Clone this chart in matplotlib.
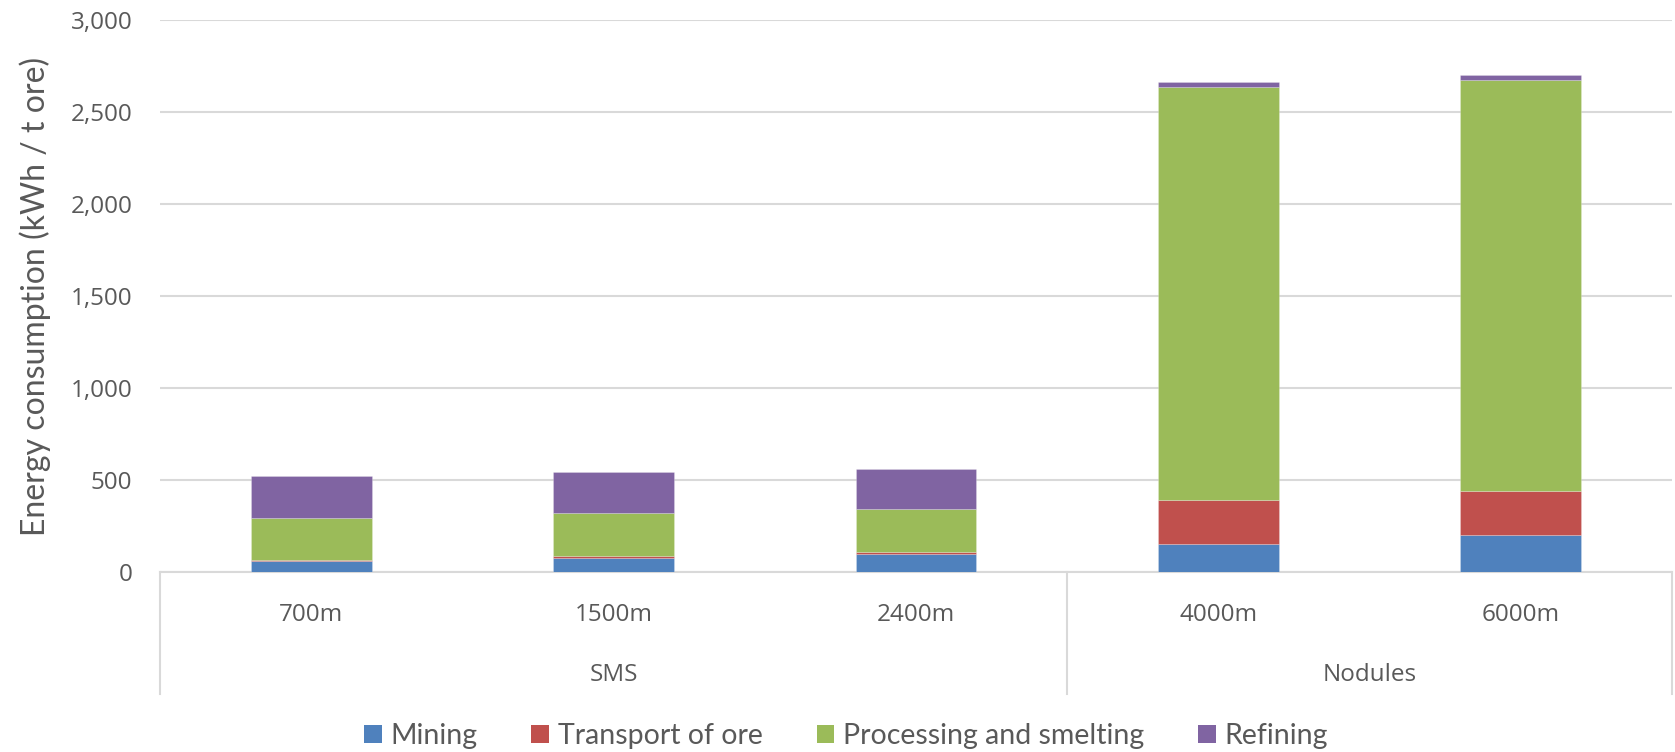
import matplotlib
matplotlib.use("Agg")
import matplotlib.pyplot as plt
import matplotlib.transforms as mtransforms
from matplotlib.lines import Line2D
from matplotlib.patches import Patch
import numpy as np

depths = ["700m", "1500m", "2400m", "4000m", "6000m"]
groups = ["SMS", "Nodules"]
group_sizes = [3, 2]
series_names = ["Mining", "Transport of ore", "Processing and smelting", "Refining"]
mining = [58, 78, 100, 150, 200]
transport = [6, 7, 6, 239, 238]
processing = [232, 234, 235, 2247, 2237]
refining = [225, 222, 217, 26, 25]
colors = ["#4F81BD", "#C0504D", "#9BBB59", "#8064A2"]
yticks = [0, 500, 1000, 1500, 2000, 2500, 3000]

W, H = 1675, 752
fig = plt.figure(figsize=(W / 100, H / 100), dpi=100)
L, R, T, B = 160, 1672, 20, 572
ax = fig.add_axes([L / W, 1 - B / H, (R - L) / W, (B - T) / H])

tick_col = "#595959"
grid_col = "#D9D9D9"
font = "Open Sans"

x = np.arange(len(depths))
bottom = np.zeros(len(depths))
for vals, c in zip([mining, transport, processing, refining], colors):
    ax.bar(x, vals, width=0.4, bottom=bottom, color=c, edgecolor=(1, 1, 1, 0.3),
           linewidth=0.5, zorder=3)
    bottom += np.array(vals)

ax.set_xlim(-0.5, len(depths) - 0.5)
ax.set_ylim(0, 3000)
ax.set_yticks(yticks)
ax.set_yticklabels([f"{v:,}" for v in yticks], fontsize=17.5, color=tick_col, fontfamily=font)
ax.tick_params(axis="y", length=0, pad=20)
ax.yaxis.grid(True, color=grid_col, linewidth=1.5, zorder=0)
ax.set_axisbelow(True)
for s in ["left", "right", "top"]:
    ax.spines[s].set_visible(False)
ax.spines["bottom"].set_color(grid_col)
ax.spines["bottom"].set_linewidth(1.5)

ax.set_xticks(x)
ax.set_xticklabels(depths, fontsize=17.5, color=tick_col, fontfamily=font)
ax.tick_params(axis="x", length=0, pad=22)

ax.set_ylabel("Energy consumption (kWh / t ore)", fontsize=23, color=tick_col,
              fontfamily="Lato", labelpad=14)

trans = mtransforms.blended_transform_factory(ax.transData, ax.transAxes)
low = -(694 - B) / (B - T)
start = -0.5
bounds = [start]
for gname, n in zip(groups, group_sizes):
    center = start + n / 2
    ax.text(center, -(675 - B) / (B - T), gname, transform=trans, ha="center", va="center",
            fontsize=17.5, color=tick_col, fontfamily=font)
    start += n
    bounds.append(start)
for b in bounds:
    ax.add_line(Line2D([b, b], [0, low], transform=trans, color=grid_col, linewidth=1.5,
                       clip_on=False))

handles = [Patch(facecolor=c, edgecolor="none") for c in colors]
fig.legend(handles, series_names, loc="center", bbox_to_anchor=(0.505, 1 - 736 / H),
           ncol=4, frameon=False, prop={"family": "Lato", "size": 20.5},
           labelcolor=tick_col, handlelength=0.62, handleheight=0.62, handletextpad=0.3,
           columnspacing=1.9)

fig.savefig("out.png", dpi=100, facecolor="white")
